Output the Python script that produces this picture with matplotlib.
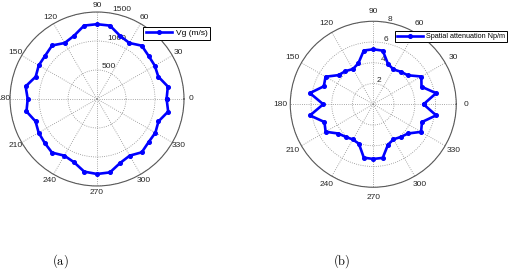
import numpy as np
import matplotlib
matplotlib.use('Agg')
from matplotlib import pyplot as plt

# angles of the measured directions (deg)
angles = list(range(0, 360, 10))

# group velocity Vg (m/s)
vg = [1200, 1240, 1125, 1150, 1160, 1200, 1115, 1160, 1285, 1290,
      1285, 1160, 1115, 1205, 1165, 1160, 1125, 1250, 1195, 1235,
      1128, 1162, 1178, 1207, 1128, 1160, 1272, 1293, 1285, 1172,
      1128, 1200, 1160, 1162, 1128, 1246]

# spatial attenuation (Np/m)
att = [4.85, 6.15, 4.95, 5.35, 4.35, 4.10, 3.88, 4.15, 5.25, 5.30,
       5.26, 4.20, 3.92, 4.17, 4.37, 5.31, 5.07, 6.20, 4.82, 6.19,
       5.01, 5.30, 4.39, 4.11, 3.92, 4.05, 5.23, 5.27, 5.25, 4.15,
       3.90, 4.12, 4.38, 5.32, 5.00, 6.15]

vg_ticks = [500, 1000, 1500]
att_ticks = [2, 4, 6, 8]
theta_ticks = list(range(0, 360, 30))

plt.rcParams['font.family'] = ['Liberation Sans', 'DejaVu Sans']
plt.rcParams['mathtext.fontset'] = 'cm'

fig = plt.figure(figsize=(5.11, 2.71), dpi=100)


def polar_panel(rect, values, rticks, label, lab_frac):
    ax = fig.add_axes(rect, projection='polar')
    th = np.deg2rad(angles + [angles[0]])
    r = values + [values[0]]
    rmax = rticks[-1]
    ax.set_ylim(0, rmax)
    ax.set_yticks(rticks)
    ax.set_yticklabels([])
    ax.set_xticks(np.deg2rad(theta_ticks))
    ax.set_xticklabels([])
    ax.grid(True, linestyle=':', color='0.55', linewidth=0.6)
    ax.spines['polar'].set_color('0.35')
    ax.spines['polar'].set_linewidth(0.8)
    for t in rticks:
        ax.text(np.deg2rad(80), t, str(t), ha='left', va='bottom',
                fontsize=6, color='0.15', zorder=1)
    for t in theta_ticks:
        ax.text(np.deg2rad(t), rmax * lab_frac, str(t), ha='center',
                va='center', fontsize=6, color='0.15', clip_on=False)
    ln, = ax.plot(th, r, color='#0000ff', linewidth=1.9, marker='o',
                  markersize=2.6, zorder=3, label=label)
    return ax, ln


ax1, l1 = polar_panel([0.0196, 0.3137, 0.3405, 0.642], vg, vg_ticks,
                      'Vg (m/s)', 1.08)
ax2, l2 = polar_panel([0.568, 0.309, 0.3249, 0.6125], att, att_ticks,
                      'Spatial attenuation Np/m', 1.12)

for ln, anchor, fs, hl in [(l1, (143 / 511, 1 - 27 / 271), 6, 3.2),
                           (l2, (395 / 511, 1 - 31 / 271), 5.2, 3.6)]:
    leg = fig.legend(handles=[ln], loc='upper left', bbox_to_anchor=anchor,
                     fontsize=fs, fancybox=False, framealpha=1,
                     edgecolor='black', borderpad=0.3, handlelength=hl,
                     handletextpad=0.4, borderaxespad=0)
    leg.get_frame().set_linewidth(0.7)

fig.text(60 / 511, 1 - 261 / 271, r'$\mathrm{(a)}$', ha='center',
         va='center', fontsize=9)
fig.text(342 / 511, 1 - 261 / 271, r'$\mathrm{(b)}$', ha='center',
         va='center', fontsize=9)

fig.savefig('out.png', dpi=100)
